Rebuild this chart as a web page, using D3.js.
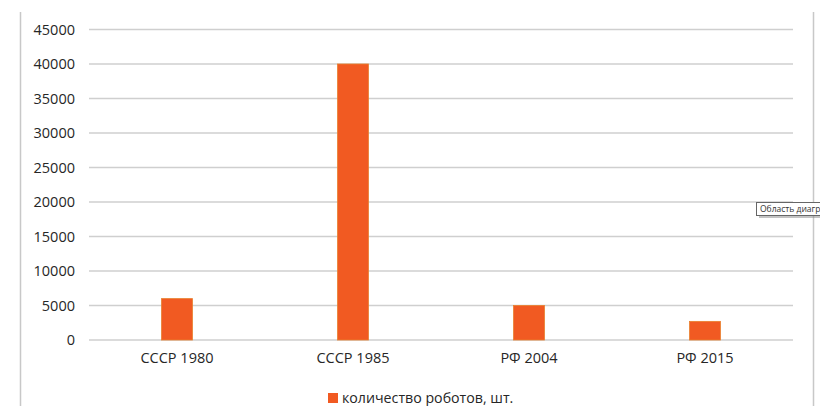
<!DOCTYPE html>
<html><head><meta charset="utf-8">
<script src="https://cdn.jsdelivr.net/npm/d3@7"></script>
<style>body{margin:0;background:#fff;} svg{display:block;font-family:"Open Sans","Noto Sans",sans-serif;}</style>
</head><body>
<svg id="c" width="820" height="406"></svg>
<script>
const categories = ["СССР 1980", "СССР 1985", "РФ 2004", "РФ 2015"];
const values = [6000, 40000, 5000, 2700];
const yTicks = [0, 5000, 10000, 15000, 20000, 25000, 30000, 35000, 40000, 45000];
const seriesName = "количество роботов, шт.";
const tooltipText = "Область диаграммы";

(function(){
const svg = d3.select("#c");
const mLeft = 89, mRight = 793, mTop = 29.5, mBottom = 340;
const x = d3.scaleBand().domain(categories).range([mLeft, mRight]).paddingInner(0.824).paddingOuter(0.412);
const y = d3.scaleLinear().domain([0, 45000]).range([mBottom, mTop]);
const txt = "#262626";

// outer frame
svg.append("line").attr("x1",20.5).attr("x2",20.5).attr("y1",12).attr("y2",406).attr("stroke","#c8c8c8").attr("stroke-width",1.5);
svg.append("line").attr("x1",813.5).attr("x2",813.5).attr("y1",12).attr("y2",406).attr("stroke","#c8c8c8").attr("stroke-width",1.5);

// gridlines
svg.append("g").selectAll("line").data(yTicks).join("line")
  .attr("x1",mLeft).attr("x2",mRight)
  .attr("y1",d=>y(d)).attr("y2",d=>y(d))
  .attr("stroke","#cfcfcf").attr("stroke-width",1.5);

// y axis labels
const ya = svg.append("g").attr("transform",`translate(${mLeft-4},0)`)
  .call(d3.axisLeft(y).tickValues(yTicks).tickSize(0).tickPadding(10).tickFormat(d3.format("d")));
ya.select(".domain").remove();
ya.selectAll("text").attr("font-size",14.5).attr("fill",txt).style("font-family",'"Open Sans","Noto Sans",sans-serif');

// bars
svg.append("g").selectAll("rect").data(values).join("rect")
  .attr("x",(d,i)=>x(categories[i]))
  .attr("width",x.bandwidth())
  .attr("y",d=>y(d))
  .attr("height",d=>y(0)-y(d))
  .attr("fill","#F15A22").attr("stroke","#e9802e").attr("stroke-width",0.8);

// x axis labels
const xa = svg.append("g").attr("transform",`translate(0,${mBottom})`)
  .call(d3.axisBottom(x).tickSize(0).tickPadding(13));
xa.select(".domain").remove();
xa.selectAll("text").attr("font-size",14.5).attr("fill",txt).style("font-family",'"Open Sans","Noto Sans",sans-serif');

// legend
const lg = svg.append("g");
lg.append("rect").attr("x",328).attr("y",393).attr("width",10).attr("height",10).attr("fill","#F15A22");
lg.append("text").attr("x",342).attr("y",398).attr("dy","0.35em").attr("font-size",14.2).attr("fill",txt).text(seriesName);

// tooltip (partly outside the window, as in the reference)
const tg = svg.append("g");
tg.append("rect").attr("x",759).attr("y",205).attr("width",80).attr("height",13).attr("fill","#888").attr("opacity",0.5);
tg.append("rect").attr("x",756.5).attr("y",202.5).attr("width",80).attr("height",13).attr("fill","#fff").attr("stroke","#666").attr("stroke-width",1);
tg.append("text").attr("x",760).attr("y",209.5).attr("dy","0.35em").attr("font-size",8.5).attr("fill","#333").text(tooltipText);
})();
</script>
</body></html>
